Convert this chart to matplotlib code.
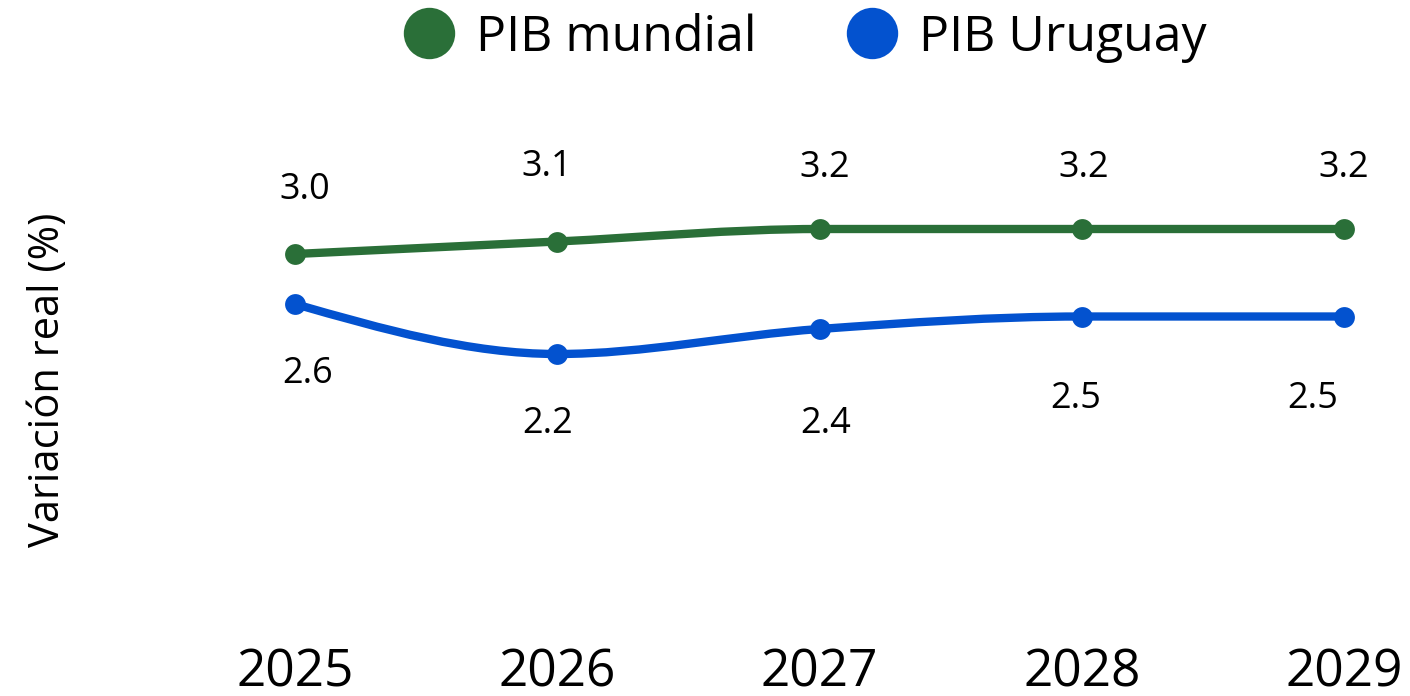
import matplotlib
matplotlib.use("Agg")
import matplotlib.pyplot as plt
import numpy as np
from matplotlib.path import Path
from matplotlib.patches import PathPatch
from matplotlib.lines import Line2D


# ------------------ DATA ------------------

years = [2025, 2026, 2027, 2028, 2029]
pib_mundial = [3.0, 3.1, 3.2, 3.2, 3.2]
pib_uruguay = [2.6, 2.2, 2.4, 2.5, 2.5]
series_names = ["PIB mundial", "PIB Uruguay"]

# label offsets (pixels) relative to each point
mundial_dx = [10, -10, 5, 2, 0]
mundial_dy = [64, 74, 61, 61, 61]
uruguay_dx = [13, -10, 6, -6, -31]
uruguay_dy = [-70, -70, -95, -82, -82]

GREEN = "#2a6f38"
BLUE = "#0352cf"
FONT = "Open Sans"
PX = 0.72  # points per pixel at dpi 100


# ------------------ HELPERS ------------------

def monotone_path(xs, ys):
    # d3 curveMonotoneX as cubic bezier segments
    xs = np.asarray(xs, float)
    ys = np.asarray(ys, float)
    n = len(xs)
    h = np.diff(xs)
    s = np.diff(ys) / h
    t = np.zeros(n)
    for i in range(1, n - 1):
        p = (s[i - 1] * h[i] + s[i] * h[i - 1]) / (h[i - 1] + h[i])
        t[i] = (np.sign(s[i - 1]) + np.sign(s[i])) * min(abs(s[i - 1]), abs(s[i]), 0.5 * abs(p))
    t[0] = (3 * s[0] - t[1]) / 2
    t[-1] = (3 * s[-1] - t[-2]) / 2
    verts = [(xs[0], ys[0])]
    codes = [Path.MOVETO]
    for i in range(n - 1):
        dx = (xs[i + 1] - xs[i]) / 3
        verts += [(xs[i] + dx, ys[i] + dx * t[i]),
                  (xs[i + 1] - dx, ys[i + 1] - dx * t[i + 1]),
                  (xs[i + 1], ys[i + 1])]
        codes += [Path.CURVE4] * 3
    return Path(verts, codes)


def draw_series(ax, xs, ys, color, dxs, dys):
    patch = PathPatch(monotone_path(xs, ys), facecolor="none", edgecolor=color,
                      lw=6, capstyle="round", clip_on=False, zorder=2)
    ax.add_patch(patch)
    ax.plot(xs, ys, "o", color=color, ms=15, mec="none", clip_on=False, zorder=3)
    for x, y, dx, dy in zip(xs, ys, dxs, dys):
        ax.annotate(f"{y:.1f}", (x, y), xytext=(dx * PX, dy * PX),
                    textcoords="offset points", ha="center", va="center",
                    fontsize=26, family=FONT, color="black")


# ------------------ PLOT ------------------

fig = plt.figure(figsize=(14.1, 6.96), dpi=100)
ax = fig.add_axes([295 / 1410, 67 / 696, (1344 - 295) / 1410, 500 / 696])

draw_series(ax, years, pib_mundial, GREEN, mundial_dx, mundial_dy)
draw_series(ax, years, pib_uruguay, BLUE, uruguay_dx, uruguay_dy)

ax.set_xlim(2025, 2029)
ax.set_ylim(0, 4)
ax.set_xticks(years)
ax.set_xticklabels([str(y) for y in years], fontsize=37, family=FONT)
ax.tick_params(axis="x", length=0, pad=13)
ax.set_yticks([])
for sp in ax.spines.values():
    sp.set_visible(False)

fig.text(48 / 1410, 1 - 380 / 696, "Variación real (%)", rotation=90,
         ha="center", va="center", fontsize=30, family=FONT)

handles = [Line2D([], [], ls="none", marker="o", ms=37, color=c, mec="none")
           for c in (GREEN, BLUE)]
fig.legend(handles, series_names, loc="center", bbox_to_anchor=(805 / 1410, 1 - 38 / 696),
           ncol=2, frameon=False, prop={"family": FONT, "size": 36},
           handlelength=1.0, handletextpad=0.45, columnspacing=1.8)

fig.savefig("out.png", dpi=100)
